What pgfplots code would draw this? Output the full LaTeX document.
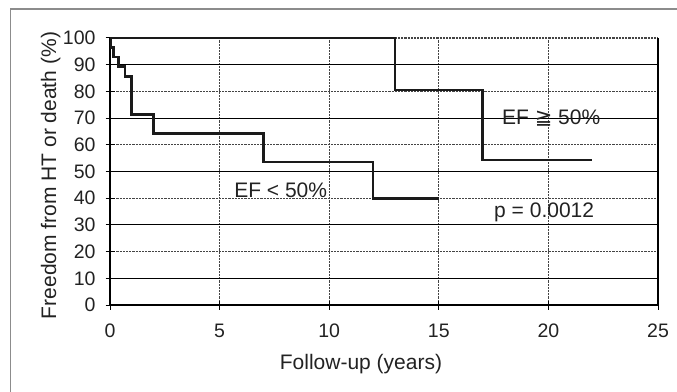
\documentclass[border=0pt]{standalone}
\usepackage{pgfplots}
\pgfplotsset{compat=1.18}
\usepackage{fontspec}
\setmainfont{Liberation Sans}
\newfontfamily\dejavu{DejaVu Sans}
\definecolor{txt}{HTML}{222222}
\definecolor{curve}{HTML}{1A1A1A}
\definecolor{gridc}{HTML}{444444}
\definecolor{framec}{HTML}{8C8C8C}
\begin{document}
\begin{tikzpicture}[x=1pt,y=1pt]
\draw[framec, line width=1.3pt] (10.5,-20) -- (10.5,382) -- (700,382);
\begin{axis}[
  at={(110pt,86pt)}, anchor=south west,
  scale only axis, width=548pt, height=267pt,
  xmin=0, xmax=25, ymin=0, ymax=100,
  axis lines=left, axis line style={-, black, line width=1.6pt},
  xtick={0,5,...,25}, ytick={0,20,...,100},
  extra y ticks={10,30,50,70,90},
  extra y tick style={grid=major, major grid style={black, line width=1pt, solid}},
  xmajorgrids, ymajorgrids,
  major grid style={gridc, line width=1.1pt, dash pattern=on 2.2pt off 1pt},
  tick align=center, major tick length=9pt, tick style={black, line width=1pt},
  ticklabel style={font=\fontsize{19.5}{23}\selectfont, text=txt},
  /pgf/number format/assume math mode=true,
  xticklabel style={yshift=-11pt},
  yticklabel style={xshift=-6.5pt},
  xlabel={Follow-up (years)}, ylabel={Freedom from HT or death (\%)},
  label style={font=\fontsize{21}{25}\selectfont, text=txt},
  xlabel style={at={(axis description cs:0.458,-0.2397)}, anchor=base},
  ylabel style={at={(axis description cs:-0.0985,0.485)}, anchor=base},
  clip=false,
]
\addplot[const plot, curve, line width=2.7pt] coordinates {
  (0,100) (13,80.5) (17,54.3) (22,54.3)
};
\addplot[const plot, curve, line width=2.7pt] coordinates {
  (0,100) (0.05,96.4) (0.15,92.9) (0.4,89.3) (0.68,85.7) (0.97,71.4) (2,64.3) (7,53.6) (12,40) (15,40)
};
\draw[black, line width=1.2pt] (rel axis cs:1,0) -- (rel axis cs:1,1);
\node[anchor=base west, inner sep=0, font=\fontsize{21}{25}\selectfont, text=txt] at (axis cs:17.88,67.6) {EF {\dejavu ≧} 50\%};
\node[anchor=base west, inner sep=0, font=\fontsize{21}{25}\selectfont, text=txt] at (axis cs:5.66,40.2) {EF < 50\%};
\node[anchor=base west, inner sep=0, font=\fontsize{21}{25}\selectfont, text=txt] at (axis cs:17.52,32.8) {p = 0.0012};
\end{axis}
\pgfresetboundingbox
\useasboundingbox (0,0) rectangle (677,391);
\end{tikzpicture}
\end{document}
